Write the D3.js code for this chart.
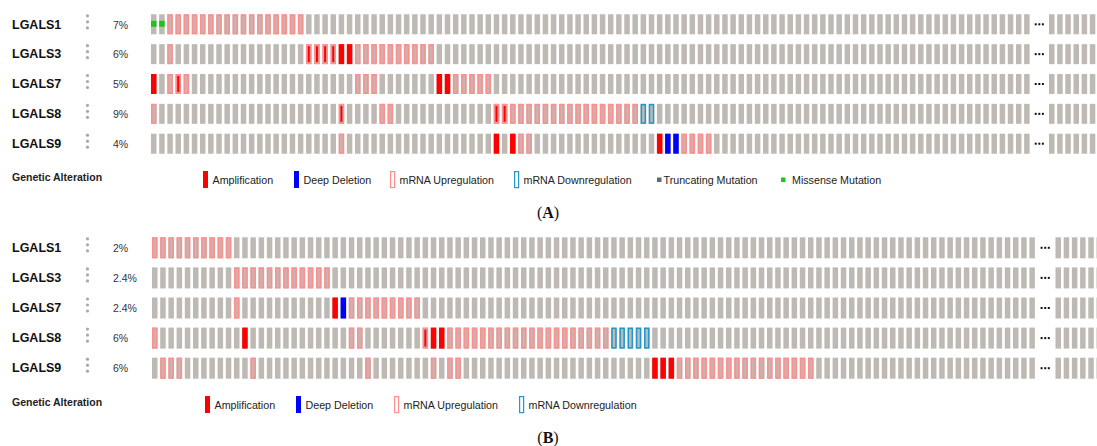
<!DOCTYPE html>
<html>
<head>
<meta charset="utf-8">
<script src="https://cdn.jsdelivr.net/npm/d3@7/dist/d3.min.js"></script>
<style>
  body { margin: 0; background: #fff; }
  svg { display: block; font-family: "Liberation Sans", Arial, sans-serif; }
</style>
</head>
<body>
<div id="chart"></div>
<script>
// region Data
const genes = ['LGALS1', 'LGALS3', 'LGALS7', 'LGALS8', 'LGALS9'];
const pctA = ['7%', '6%', '5%', '9%', '4%'];
const pctB = ['2%', '2.4%', '2.4%', '6%', '6%'];
const nCases = 108;   // columns shown before the "..."
const nTail = 6;      // columns shown after the "..."

// [gene, first column, last column, alteration]
const altA = [
    ['LGALS1', 0, 1, 'missense'],
    ['LGALS1', 2, 18, 'up'],
    ['LGALS3', 2, 2, 'up'],
    ['LGALS3', 19, 22, 'ampUp'],
    ['LGALS3', 23, 24, 'amp'],
    ['LGALS3', 25, 34, 'up'],
    ['LGALS7', 0, 0, 'amp'],
    ['LGALS7', 2, 2, 'up'],
    ['LGALS7', 3, 3, 'ampUp'],
    ['LGALS7', 4, 4, 'up'],
    ['LGALS7', 25, 27, 'up'],
    ['LGALS7', 35, 36, 'amp'],
    ['LGALS7', 37, 41, 'up'],
    ['LGALS8', 0, 0, 'up'],
    ['LGALS8', 23, 23, 'ampUp'],
    ['LGALS8', 28, 29, 'up'],
    ['LGALS8', 42, 43, 'ampUp'],
    ['LGALS8', 44, 59, 'up'],
    ['LGALS8', 60, 61, 'down'],
    ['LGALS9', 23, 23, 'up'],
    ['LGALS9', 42, 42, 'amp'],
    ['LGALS9', 44, 44, 'amp'],
    ['LGALS9', 45, 46, 'up'],
    ['LGALS9', 62, 62, 'amp'],
    ['LGALS9', 63, 64, 'del'],
    ['LGALS9', 65, 68, 'up'],
];
const altB = [
    ['LGALS1', 0, 9, 'up'],
    ['LGALS3', 10, 21, 'up'],
    ['LGALS7', 10, 10, 'up'],
    ['LGALS7', 22, 22, 'amp'],
    ['LGALS7', 23, 23, 'del'],
    ['LGALS7', 24, 32, 'up'],
    ['LGALS8', 0, 0, 'up'],
    ['LGALS8', 11, 11, 'amp'],
    ['LGALS8', 24, 25, 'up'],
    ['LGALS8', 33, 33, 'ampUp'],
    ['LGALS8', 34, 35, 'amp'],
    ['LGALS8', 36, 55, 'up'],
    ['LGALS8', 56, 60, 'down'],
    ['LGALS9', 1, 3, 'up'],
    ['LGALS9', 12, 12, 'up'],
    ['LGALS9', 26, 26, 'up'],
    ['LGALS9', 34, 34, 'up'],
    ['LGALS9', 36, 37, 'up'],
    ['LGALS9', 61, 63, 'amp'],
    ['LGALS9', 64, 80, 'up'],
];

const legendLabelsA = ['Amplification', 'Deep Deletion', 'mRNA Upregulation', 'mRNA Downregulation', 'Truncating Mutation', 'Missense Mutation'];
const legendTypesA = ['amp', 'del', 'up', 'down', 'trunc', 'missense'];
const legendLabelsB = ['Amplification', 'Deep Deletion', 'mRNA Upregulation', 'mRNA Downregulation'];
const legendTypesB = ['amp', 'del', 'up', 'down'];
// endregion

const colors = {
    gray: '#bebab3',
    red: '#ff0000',
    blue: '#0000ff',
    pink: '#ff8e8e',
    down: '#1f98d2',
    trunc: '#5e6a72',
    green: '#1ec41e'
};

const W = 1097, H = 446;
const svg = d3.select('#chart').append('svg')
    .attr('width', W).attr('height', H);
svg.append('rect').attr('width', W).attr('height', H).attr('fill', '#fff');

const cw = 5.5;

function drawPanel(cfg, pct, alts, legendLabels, legendTypes, caption) {
    let g = svg.append('g');

    let lookup = new Map();
    alts.forEach(a => {
        for (let c = a[1]; c <= a[2]; c++) lookup.set(a[0] + '|' + c, a[3]);
    });

    const x = d3.scaleBand()
        .domain(d3.range(nCases))
        .range([cfg.x0, cfg.x0 + cfg.step * (nCases - 1) + cw])
        .paddingInner(1 - cw / cfg.step);
    const xTail = d3.scaleBand()
        .domain(d3.range(nTail))
        .range([cfg.tailX, cfg.tailX + cfg.step * (nTail - 1) + cw])
        .paddingInner(1 - cw / cfg.step);
    const y = d3.scaleBand()
        .domain(genes)
        .range([cfg.top, cfg.top + cfg.rowStep * (genes.length - 1) + cfg.h])
        .paddingInner(1 - cfg.h / cfg.rowStep);

    const bw = x.bandwidth(), bh = y.bandwidth();

    // labels
    g.selectAll('.gene').data(genes).enter().append('text')
        .attr('x', 12).attr('y', d => y(d) + 14.2)
        .attr('font-size', 12.5).attr('font-weight', 'bold').attr('fill', '#111')
        .text(d => d);
    genes.forEach(gn => {
        g.selectAll(null).data([1.5, 7.5, 13.5]).enter().append('circle')
            .attr('cx', 87.5).attr('cy', d => y(gn) + d).attr('r', 1.6).attr('fill', '#a9a9a9');
    });
    g.selectAll('.pct').data(pct).enter().append('text')
        .attr('x', 113).attr('y', (d, i) => y(genes[i]) + 14.2)
        .attr('font-size', 10.5).attr('fill', '#333')
        .text(d => d);

    // cells
    let cells = [];
    genes.forEach(gn => {
        d3.range(nCases).forEach(c => cells.push({gene: gn, x: x(c), type: lookup.get(gn + '|' + c)}));
        d3.range(nTail).forEach(c => cells.push({gene: gn, x: xTail(c), type: undefined}));
    });

    let cg = g.selectAll('.cell').data(cells).enter().append('g')
        .attr('transform', d => `translate(${d.x},${y(d.gene)})`);
    cg.append('rect').attr('width', bw).attr('height', bh).attr('fill', colors.gray);

    cg.filter(d => d.type === 'amp').append('rect')
        .attr('width', bw).attr('height', bh).attr('fill', colors.red);
    cg.filter(d => d.type === 'del').append('rect')
        .attr('width', bw).attr('height', bh).attr('fill', colors.blue);
    cg.filter(d => d.type === 'up' || d.type === 'ampUp' || d.type === 'down').append('rect')
        .attr('x', 0.75).attr('y', 0.75)
        .attr('width', bw - 1.5).attr('height', bh - 1.5)
        .attr('fill', d => d.type === 'down' ? 'none' : '#c9b3ae')
        .attr('stroke', d => d.type === 'down' ? colors.down : colors.pink)
        .attr('stroke-width', 1.5);
    cg.filter(d => d.type === 'ampUp').append('rect')
        .attr('x', bw / 2 - 1).attr('y', 2)
        .attr('width', 2).attr('height', bh - 4).attr('fill', colors.red);
    cg.filter(d => d.type === 'missense').append('rect')
        .attr('y', bh / 2 - 3.5).attr('width', bw).attr('height', 6).attr('fill', colors.green);

    // ellipsis
    let ex = (x.range()[1] + cfg.tailX) / 2;
    genes.forEach(gn => {
        g.selectAll(null).data([-3.6, 0, 3.6]).enter().append('rect')
            .attr('x', d => ex + d - 1).attr('y', y(gn) + bh / 2 - 1)
            .attr('width', 2).attr('height', 2).attr('fill', '#111');
    });

    // legend
    g.append('text').attr('x', 12).attr('y', cfg.legendY - 3)
        .attr('font-size', 10.5).attr('font-weight', 'bold').attr('fill', '#222')
        .text('Genetic Alteration');

    let lg = g.selectAll('.leg').data(legendLabels).enter().append('g')
        .attr('transform', (d, i) => `translate(${cfg.legendX[i]},${cfg.legendY})`);
    lg.each(function (d, i) {
        let t = legendTypes[i], s = d3.select(this);
        if (t === 'amp' || t === 'del') {
            s.append('rect').attr('x', 0).attr('y', -13).attr('width', 5).attr('height', 17)
                .attr('fill', t === 'amp' ? colors.red : colors.blue);
        } else if (t === 'up' || t === 'down') {
            s.append('rect').attr('x', 0.6).attr('y', -12.4).attr('width', 4).attr('height', 16)
                .attr('fill', 'none').attr('stroke', t === 'up' ? colors.pink : colors.down)
                .attr('stroke-width', 1.2);
        } else {
            s.append('rect').attr('x', 0).attr('y', -6.5).attr('width', 4.5).attr('height', 4.5)
                .attr('fill', t === 'trunc' ? colors.trunc : colors.green);
        }
        s.append('text').attr('x', t === 'trunc' ? 6.5 : (t === 'missense' ? 11 : 9.5)).attr('y', 0)
            .attr('font-size', 10.7).attr('fill', '#222').text(d);
    });

    // caption
    let cap = g.append('text').attr('x', 548).attr('y', cfg.captionY)
        .attr('text-anchor', 'middle')
        .attr('font-family', '"Liberation Serif", "DejaVu Serif", serif')
        .attr('font-size', 16).attr('fill', '#111');
    cap.append('tspan').text('(');
    cap.append('tspan').attr('font-weight', 'bold').text(caption);
    cap.append('tspan').text(')');
}

drawPanel(
    {x0: 151, step: 8.16, tailX: 1049, top: 14.3, rowStep: 29.85, h: 20,
     legendY: 184, legendX: [203, 294, 390, 514, 657, 781], captionY: 218},
    pctA, altA, legendLabelsA, legendTypesA, 'A'
);
drawPanel(
    {x0: 152, step: 8.2, tailX: 1055.5, top: 237.3, rowStep: 30.1, h: 21,
     legendY: 409, legendX: [205, 296, 394, 519], captionY: 443},
    pctB, altB, legendLabelsB, legendTypesB, 'B'
);
</script>
</body>
</html>
